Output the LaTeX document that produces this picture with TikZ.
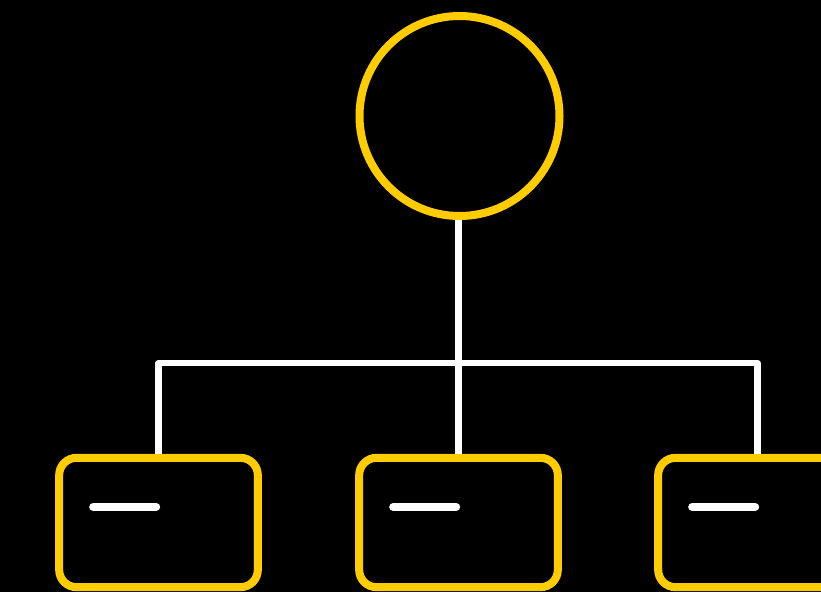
\documentclass[tikz,border=0pt]{standalone}
\usetikzlibrary{calc}
\definecolor{gold}{HTML}{FFCC00}
\tikzset{
  leaf/.style={draw=gold, line width=6pt, rounded corners=13pt, minimum width=149pt, minimum height=97pt, inner sep=0pt},
  wire/.style={draw=white, line width=4.8pt, line join=round},
  bar/.style={draw=white, line width=6pt, line cap=round}
}
\begin{document}
\begin{tikzpicture}[x=0.75pt, y=-0.75pt]
\fill[black] (0,0) rectangle (821,592);
\useasboundingbox (0,0) rectangle (821,592);
\node[circle, draw=gold, line width=6pt, minimum size=150pt, inner sep=0pt] (root) at (459.5,116) {};
\node[leaf] (b1) at (158.5,522.5) {};
\node[leaf] (b2) at (458.5,522.5) {};
\node[leaf] (b3) at (757.5,522.5) {};
\coordinate (j1) at (158.5,363);
\coordinate (j3) at (757.5,363);
\draw[wire] (root.south -| b2.north) -- (b2.north);
\draw[wire] (b1.north) -- (j1) -- (j3) -- (b3.north);
\foreach \b in {b1,b2,b3}
  \draw[bar] ($(\b.north west)+(38,53)$) -- ++(63,0);
\end{tikzpicture}
\end{document}
